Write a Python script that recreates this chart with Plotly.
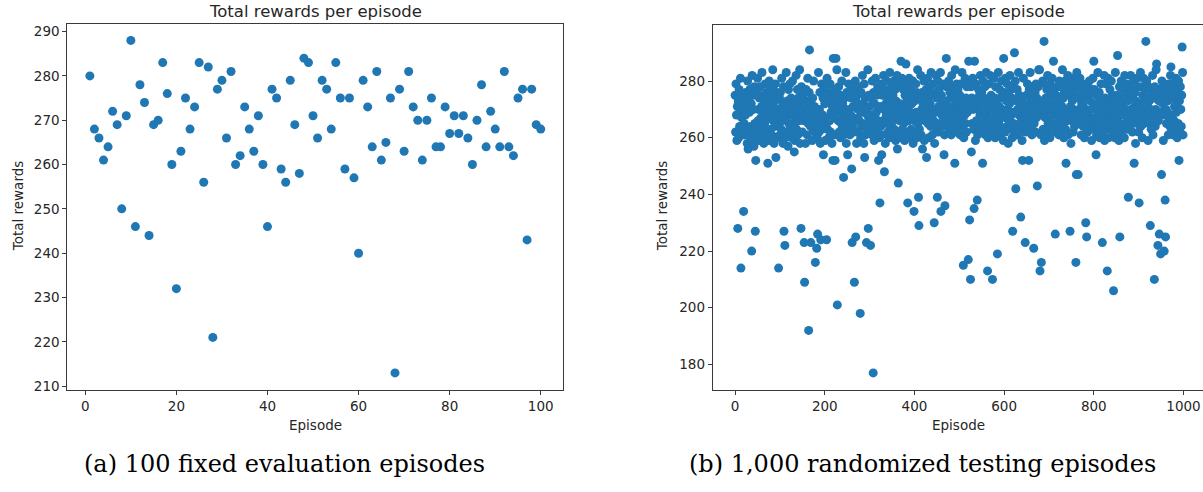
import plotly.graph_objects as go

# ---------------- data: (a) 100 fixed evaluation episodes ----------------
eval_episodes = list(range(1, 101))
eval_rewards = [
    280, 268, 266, 261, 264, 272, 269, 250, 271, 288,
    246, 278, 274, 244, 269, 270, 283, 276, 260, 232,
    263, 275, 268, 273, 283, 256, 282, 221, 277, 279,
    266, 281, 260, 262, 273, 268, 263, 271, 260, 246,
    277, 275, 259, 256, 279, 269, 258, 284, 283, 271,
    266, 279, 277, 268, 283, 275, 259, 275, 257, 240,
    279, 273, 264, 281, 261, 265, 275, 213, 277, 263,
    281, 273, 270, 261, 270, 275, 264, 264, 273, 267,
    271, 267, 271, 266, 260, 270, 278, 264, 272, 268,
    264, 281, 264, 262, 275, 277, 243, 277, 269, 268,
]

# ---------------- data: (b) 1,000 randomized testing episodes ----------------
test_episodes = list(range(0, 1000))
# main band of rewards (read as a dense cloud)
test_band = [
    275,262,279,268,259,271,266,273,260,277,264,269,281,258,272,267,275,262,270,279,265,261,274,268,276,
    263,271,258,280,266,273,261,269,277,264,259,272,267,282,262,275,270,257,278,265,268,273,260,276,263,
    281,266,270,259,274,262,278,267,264,271,283,260,269,275,258,272,265,279,263,268,276,261,270,266,274,
    259,280,267,272,263,277,269,261,275,284,266,271,258,273,264,279,262,268,276,260,270,265,282,267,274,
    261,276,269,263,281,266,272,258,278,264,270,275,260,267,283,262,273,268,257,277,265,271,279,263,269,
    274,260,268,280,265,271,262,276,259,273,267,282,263,270,277,261,274,266,269,284,258,272,264,278,267,
    262,275,270,266,279,263,271,258,277,268,273,261,281,265,269,276,260,272,264,278,267,270,259,274,263,
    280,266,271,262,275,269,264,277,260,273,267,283,262,270,276,258,271,265,279,263,268,274,261,277,266,
    272,259,278,264,270,281,263,267,275,260,273,266,279,262,269,276,258,271,265,282,268,261,274,267,277,
    263,270,284,259,273,266,278,262,269,275,260,271,265,280,264,272,268,277,261,274,266,270,283,258,276,
    267,272,263,279,265,270,261,276,268,274,259,281,264,271,277,262,269,266,280,263,273,258,275,267,270,
    262,278,266,271,273,260,276,264,269,282,265,272,258,279,267,274,261,270,277,263,268,284,260,275,266,
    271,263,278,268,274,261,280,265,270,276,259,272,267,281,264,269,275,262,278,266,273,260,277,268,271,
    264,279,269,261,275,266,282,270,263,277,258,272,268,280,265,274,262,271,276,260,283,267,273,264,278,
    269,261,275,266,280,263,271,277,259,273,268,282,264,270,276,262,279,266,272,260,274,269,281,263,267,
    277,265,270,259,275,268,283,262,273,279,264,271,266,281,260,274,269,277,263,272,267,280,258,275,270,
    266,273,262,279,269,276,260,284,265,271,278,263,274,267,282,261,270,276,264,272,268,280,259,275,266,
    271,277,263,269,281,265,274,260,278,268,272,264,283,267,275,261,279,270,266,273,258,276,269,282,263,
    274,267,280,262,271,277,265,269,283,260,275,268,272,279,264,270,276,261,281,266,273,259,278,268,271,
    265,280,270,263,276,268,274,261,282,267,271,278,264,269,275,260,284,266,273,279,262,270,277,265,272,
    268,275,261,279,266,272,283,264,270,277,260,273,268,281,265,274,262,278,269,271,276,263,280,267,273,
    262,278,269,274,265,281,270,263,276,268,272,259,279,266,273,284,261,270,277,264,275,268,282,263,271,
    276,265,271,280,262,274,268,278,261,272,283,266,269,276,260,273,279,264,270,282,267,275,262,271,277,
    264,270,281,266,274,260,278,268,272,263,276,269,283,265,271,277,261,274,267,280,263,270,275,259,278,
    269,276,262,281,267,273,264,279,270,258,275,266,272,282,263,277,268,274,260,271,278,265,269,276,262,
    280,267,273,261,277,270,264,283,268,275,262,271,279,266,274,259,276,269,281,264,272,267,278,262,270,
    275,263,279,268,272,260,277,266,283,270,264,274,261,278,268,273,281,265,271,276,262,279,267,274,260,
    271,278,264,269,284,266,273,261,276,268,272,280,263,270,275,259,279,267,274,262,277,269,282,265,272,
    266,274,260,279,269,276,263,281,268,272,258,277,265,271,283,262,275,268,270,278,264,273,261,280,267,
    273,262,278,267,271,284,265,274,260,276,269,280,263,272,277,266,270,282,261,275,268,279,264,271,258,
    277,266,273,281,262,270,276,264,279,268,272,260,283,267,274,263,278,270,265,281,269,275,261,272,266,
    279,264,271,276,260,274,268,282,265,272,278,262,269,275,266,280,263,273,270,277,259,276,267,281,264,
    270,277,263,272,266,280,261,275,269,283,264,271,276,260,273,268,279,265,272,278,262,270,267,282,259,
    274,268,279,263,271,276,265,281,260,273,269,277,264,272,280,267,275,262,270,278,266,273,260,283,268,
    263,275,270,281,266,272,259,278,267,274,262,280,269,271,264,277,268,273,260,282,265,276,270,263,279,
    267,273,261,278,269,275,264,282,270,266,277,262,274,268,280,263,271,276,258,273,267,281,265,270,278,
    262,276,269,272,283,264,271,278,260,275,267,281,265,273,269,277,262,274,280,266,271,259,278,268,273,
    265,279,270,263,276,268,282,261,274,267,272,278,264,270,284,262,275,268,281,266,273,260,277,269,271,
    276,263,280,268,272,259,278,266,274,262,283,270,265,277,269,273,261,279,267,275,264,282,270,263,276,
    268,274,261,279,266,271,277,263,281,269,272,260,276,265,280,268,273,262,278,270,264,275,267,283,261,
]
# individually visible points outside the band (episode, reward)
test_outlier_episodes = [
    6, 13, 19, 29, 37, 45, 46, 73, 91, 97, 109, 111, 132, 147, 154, 155, 164, 166, 169,
    179, 182, 184, 191, 197, 204, 218, 219, 223, 225, 228, 242, 251, 260, 261, 266, 269,
    279, 289, 293, 297, 302, 308, 320, 323, 327, 333, 362, 364, 370, 381, 385, 399, 409,
    410, 418, 427, 444, 451, 459, 466, 468, 471, 490, 509, 520, 521, 523, 525, 527, 533,
    534, 540, 552, 563, 574, 585, 599, 619, 623, 626, 637, 641, 647, 655, 666, 674, 677,
    680, 683, 689, 710, 714, 738, 747, 760, 761, 765, 782, 784, 800, 805, 819, 830, 844,
    853, 858, 877, 890, 901, 916, 926, 935, 940, 943, 946, 949, 951, 957, 959, 960, 972,
    990, 997,
]
test_outlier_rewards = [
    228, 214, 234, 256, 220, 227, 252, 251, 253, 214, 227, 222, 255, 228, 223, 209, 192, 291, 223,
    216, 221, 226, 224, 254, 224, 252, 288, 252, 288, 201, 246, 254, 249, 223, 209, 225,
    198, 253, 223, 228, 222, 177, 252, 237, 254, 248, 256, 244, 287, 286, 237, 234, 239,
    229, 256, 253, 230, 239, 234, 254, 236, 288, 251, 215, 217, 287, 231, 210, 255, 235,
    287, 238, 251, 213, 210, 219, 288, 227, 290, 242, 232, 252, 223, 252, 221, 243, 284,
    213, 216, 294, 287, 226, 251, 227, 216, 247, 247, 230, 225, 287, 254, 223, 213, 206,
    289, 225, 239, 251, 237, 294, 229, 210, 286, 222, 226, 219, 247, 220, 238, 225, 285,
    252, 292,
]

test_rewards = list(test_band)
for ep, rw in zip(test_outlier_episodes, test_outlier_rewards):
    test_rewards[ep] = rw

# ---------------- figure ----------------
W, H = 1203, 492
BLUE = "#1f77b4"
TXT = "#262626"
AX = "#3a3a3a"

def px_x(p):
    return p / W

def px_y(p):
    return 1 - p / H

fig = go.Figure()
fig.add_trace(go.Scatter(x=eval_episodes, y=eval_rewards, mode="markers",
                         marker=dict(color=BLUE, size=9, line=dict(width=0)),
                         xaxis="x", yaxis="y", showlegend=False))
fig.add_trace(go.Scatter(x=test_episodes, y=test_rewards, mode="markers",
                         marker=dict(color=BLUE, size=9, line=dict(width=0)),
                         xaxis="x2", yaxis="y2", showlegend=False))

tickfont = dict(family="DejaVu Sans", size=13.5, color=TXT)
common = dict(showgrid=False, zeroline=False, showline=True, linecolor=AX, linewidth=1,
              ticks="outside", ticklen=4, tickwidth=1, tickcolor=AX, tickfont=tickfont)

L_l, L_r = 67.3, 563.3
R_l = 712.7
top_a, top_b, bot = 24.0, 25.0, 392.7

# right panel x range: same scale as the reference (the axes run past the image edge)
r_scale = (1182.7 - 734.3) / 1000.0
r_xmax = -49.95 + (W - R_l) / r_scale

fig.update_layout(
    width=W, height=H,
    margin=dict(l=0, r=0, t=0, b=0),
    paper_bgcolor="white", plot_bgcolor="white",
    xaxis=dict(domain=[px_x(L_l), px_x(L_r)], range=[-3.95, 104.95], tickvals=[0, 20, 40, 60, 80, 100],
               mirror=True, anchor="y", **common),
    yaxis=dict(domain=[px_y(bot), px_y(top_a)], range=[209.25, 291.75],
               tickvals=[210, 220, 230, 240, 250, 260, 270, 280, 290], mirror=True, anchor="x", **common),
    xaxis2=dict(domain=[px_x(R_l), 1.0], range=[-49.95, r_xmax], tickvals=[0, 200, 400, 600, 800, 1000],
                mirror=True, anchor="y2", **common),
    yaxis2=dict(domain=[px_y(bot), px_y(top_b)], range=[171.15, 299.85],
                tickvals=[180, 200, 220, 240, 260, 280], mirror=False, anchor="x2", **common),
)

titlefont = dict(family="DejaVu Sans", size=16.5, color=TXT)
labfont = dict(family="DejaVu Sans", size=13.5, color=TXT)
capfont = dict(family="DejaVu Serif", size=24, color="black")

ann = [
    dict(text="Total rewards per episode", x=px_x(315.3), y=px_y(12), font=titlefont),
    dict(text="Total rewards per episode", x=px_x(958.7), y=px_y(12), font=titlefont),
    dict(text="Episode", x=px_x(315), y=px_y(428), font=labfont),
    dict(text="Episode", x=px_x(958), y=px_y(428), font=labfont),
    dict(text="Total rewards", x=px_x(18), y=px_y(208), font=labfont, textangle=-90),
    dict(text="Total rewards", x=px_x(662), y=px_y(208), font=labfont, textangle=-90),
    dict(text="(a) 100 fixed evaluation episodes", x=px_x(284), y=px_y(468), font=capfont),
    dict(text="(b) 1,000 randomized testing episodes", x=px_x(922), y=px_y(468), font=capfont),
]
for a in ann:
    a.update(xref="paper", yref="paper", showarrow=False, xanchor="center", yanchor="middle")
fig.update_layout(annotations=ann)

# place the figure at the page's top-left corner (no default body margin), no mode bar
fig.write_html("out.html",
               config={"displayModeBar": False},
               post_script="document.body.style.margin='0px';document.body.style.overflow='hidden';")
